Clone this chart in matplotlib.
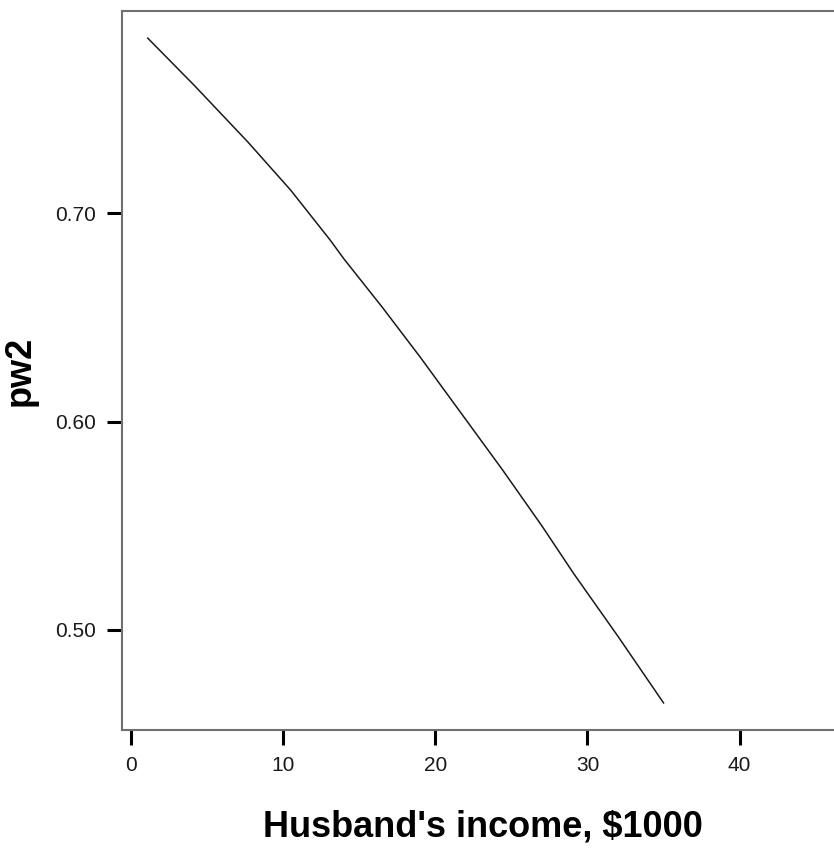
import matplotlib
matplotlib.use("Agg")
import matplotlib.pyplot as plt
import matplotlib.transforms as mtransforms

# Predicted probability pw2 against husband's income ($1000)
income = [1.1, 4.2, 7.7, 10.5, 13.1, 14.0, 16.5, 19.0, 22.9, 24.4, 27.0, 29.1, 32.0, 35.0]
pw2 = [0.784, 0.761, 0.734, 0.711, 0.687, 0.678, 0.655, 0.631, 0.592, 0.577, 0.550, 0.527, 0.497, 0.465]

xticks = [0, 10, 20, 30, 40]
yticks = [0.50, 0.60, 0.70]
ytick_labels = ["0.50", "0.60", "0.70"]

W, H = 834, 848
fig = plt.figure(figsize=(W / 100, H / 100), dpi=100)
fig.patch.set_facecolor("white")

left, right, top, bottom = 122, 837, 11, 730
ax = fig.add_axes([left / W, 1 - bottom / H, (right - left) / W, (bottom - top) / H])

ax.plot(income, pw2, color="#1a1a1a", lw=1.1)

ax.set_xlim(-0.59, 46.4)
ax.set_ylim(0.452, 0.797)
ax.set_xticks(xticks)
ax.set_yticks(yticks)
ax.set_yticklabels(ytick_labels)

for s in ax.spines.values():
    s.set_color("#707070")
    s.set_linewidth(1.5)

ax.tick_params(axis="both", direction="out", length=10.5, width=2.2, color="black",
               labelsize=15, labelcolor="#1a1a1a", pad=8)
for lab in ax.get_xticklabels() + ax.get_yticklabels():
    lab.set_family(["Liberation Sans", "DejaVu Sans"])

xl = ax.set_xlabel("Husband's income, $1000", fontsize=26, fontweight="bold",
                   family=["Liberation Sans", "DejaVu Sans"], va="baseline")
ax.xaxis.set_label_coords(0.505, 1 - 836 / H,
                          transform=mtransforms.blended_transform_factory(ax.transAxes, fig.transFigure))
ax.set_ylabel("pw2", fontsize=26, fontweight="bold",
              family=["Liberation Sans", "DejaVu Sans"], labelpad=13)

fig.savefig("out.png", dpi=100)
